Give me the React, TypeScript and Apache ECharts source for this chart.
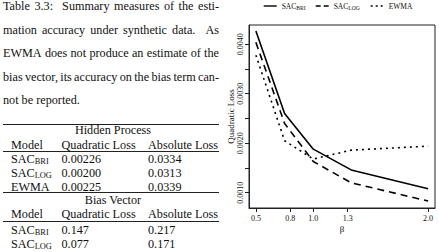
import React, { useEffect, useRef } from 'react';
import * as echarts from 'echarts';

// ---------- chart data ----------
const betaValues = [0.5, 0.75, 1.0, 1.33, 2.0];
const sacBriLoss = [0.00427, 0.0026, 0.00188, 0.00146, 0.00108];
const sacLogLoss = [0.00404, 0.0024, 0.00163, 0.0012, 0.00083];
const ewmaLoss = [0.00378, 0.00205, 0.00168, 0.00186, 0.00194];
const xTickValues = [0.5, 0.8, 1.0, 1.3, 2.0];
const yTickValues = [0.001, 0.0015, 0.002, 0.0025, 0.003, 0.0035, 0.004];
const yLabelValues = [0.001, 0.002, 0.003, 0.004];
const seriesNames = ['SAC_BRI', 'SAC_LOG', 'EWMA'];

// ---------- caption & table text ----------
const captionLines = [
  'Table 3.3:  Summary measures of the esti-',
  'mation accuracy under synthetic data.  As',
  'EWMA does not produce an estimate of the',
  'bias vector, its accuracy on the bias term can-',
  'not be reported.',
];
const captionJustified = [true, true, true, true, false];
const tableHeader = ['Model', 'Quadratic Loss', 'Absolute Loss'];
const hiddenTitle = 'Hidden Process';
const hiddenModels = ['SAC_BRI', 'SAC_LOG', 'EWMA'];
const hiddenQuadratic = ['0.00226', '0.00200', '0.00225'];
const hiddenAbsolute = ['0.0334', '0.0313', '0.0339'];
const biasTitle = 'Bias Vector';
const biasModels = ['SAC_BRI', 'SAC_LOG'];
const biasQuadratic = ['0.147', '0.077'];
const biasAbsolute = ['0.217', '0.171'];

const FONT = 'Liberation Serif, Times New Roman, serif';
const INK = '#111';

function toRich(name: string) {
  const i = name.indexOf('_');
  if (i < 0) return `{m|${name}}`;
  return `{m|${name.slice(0, i)}}{s|${name.slice(i + 1)}}`;
}

function buildGraphic() {
  const els: any[] = [];
  const CAP_SIZE = 12.2;
  const CAP_LEFT = 3;
  const CAP_RIGHT = 219;
  const CAP_TOP = 6;
  const CAP_LEAD = 23.5;
  const ctx = document.createElement('canvas').getContext('2d')!;
  ctx.font = `${CAP_SIZE}px "Liberation Serif"`;
  const txt = (text: string, x: number, y: number, size: number, align = 'left', rich?: any) => ({
    type: 'text',
    x,
    y,
    silent: true,
    style: {
      text,
      fontSize: size,
      fontFamily: FONT,
      fill: INK,
      align,
      textAlign: align,
      verticalAlign: 'middle',
      textVerticalAlign: 'middle',
      rich,
    },
  });
  captionLines.forEach((line, i) => {
    const y = CAP_TOP + i * CAP_LEAD;
    if (!captionJustified[i]) {
      els.push(txt(line, CAP_LEFT, y, CAP_SIZE));
      return;
    }
    const words = line.split(' ');
    const widths = words.map((w) => ctx.measureText(w).width);
    const total = widths.reduce((a, b) => a + b, 0);
    const gap = (CAP_RIGHT - CAP_LEFT - total) / (words.length - 1);
    let x = CAP_LEFT;
    words.forEach((w, j) => {
      if (w) els.push(txt(w, x, y, CAP_SIZE));
      x += widths[j] + gap;
    });
  });

  // table
  const T = 12.2;
  const richModel = {
    m: { fontSize: T, fontFamily: FONT, fill: INK, lineHeight: 14 },
    s: { fontSize: 8.4, fontFamily: FONT, fill: INK, lineHeight: 8, verticalAlign: 'bottom' },
  };
  const cols = [11, 61.5, 148];
  const CENTER = 113;
  const rule = (y: number) => ({
    type: 'line',
    silent: true,
    shape: { x1: 3, y1: y, x2: 219, y2: y },
    style: { stroke: '#222', lineWidth: 1 },
  });
  els.push(rule(124.5));
  els.push(txt(hiddenTitle, CENTER, 129.5, T, 'center'));
  tableHeader.forEach((h, c) => els.push(txt(h, cols[c], 144.5, T)));
  els.push(rule(151.5));
  const hiddenY = [158.5, 172.5, 186.5];
  hiddenModels.forEach((m, r) => {
    els.push(txt(toRich(m), cols[0], hiddenY[r], T, 'left', richModel));
    els.push(txt(hiddenQuadratic[r], cols[1], hiddenY[r], T));
    els.push(txt(hiddenAbsolute[r], cols[2], hiddenY[r], T));
  });
  els.push(rule(192.5));
  els.push(txt(biasTitle, CENTER, 200, T, 'center'));
  tableHeader.forEach((h, c) => els.push(txt(h, cols[c], 214, T)));
  els.push(rule(221.5));
  const biasY = [229.5, 243.5];
  biasModels.forEach((m, r) => {
    els.push(txt(toRich(m), cols[0], biasY[r], T, 'left', richModel));
    els.push(txt(biasQuadratic[r], cols[1], biasY[r], T));
    els.push(txt(biasAbsolute[r], cols[2], biasY[r], T));
  });
  return els;
}

function buildOption(): any {
  const lineTypes: any[] = ['solid', [7, 5], [2, 4]];
  const legendDash: any[] = ['solid', [5, 3], [2, 3]];
  const seriesData = [sacBriLoss, sacLogLoss, ewmaLoss];
  const legendLefts = [263, 315, 370];
  const legendText = {
    fontFamily: FONT,
    fontSize: 7.5,
    color: INK,
    rich: {
      m: { fontFamily: FONT, fontSize: 7.5, color: INK, lineHeight: 10 },
      s: { fontFamily: FONT, fontSize: 5.6, color: INK, lineHeight: 6, verticalAlign: 'bottom' },
    },
  };
  return {
    animation: false,
    backgroundColor: '#fff',
    textStyle: { fontFamily: FONT },
    graphic: { elements: buildGraphic() },
    legend: seriesNames.map((n, i) => ({
      data: [
        {
          name: n,
          lineStyle: { type: legendDash[i], width: 1.4, color: '#000' },
          itemStyle: { opacity: 0, color: 'transparent', borderWidth: 0 },
        },
      ],
      left: legendLefts[i],
      top: 2,
      padding: 0,
      itemWidth: 13,
      itemHeight: 9,
      itemStyle: { opacity: 0, color: 'transparent', borderWidth: 0 },
      formatter: (name: string) => toRich(name),
      textStyle: legendText,
      selectedMode: false,
    })),
    grid: {
      left: 249,
      top: 25,
      width: 186,
      height: 183,
      show: true,
      borderColor: '#222',
      borderWidth: 1,
      backgroundColor: 'transparent',
      containLabel: false,
    },
    xAxis: {
      type: 'value',
      min: 0.44,
      max: 2.06,
      name: 'β',
      nameLocation: 'middle',
      nameGap: 16,
      nameMoveOverlap: false,
      nameTextStyle: { fontFamily: FONT, fontSize: 9, color: INK, lineHeight: 9 },
      axisLine: { show: true, onZero: false, lineStyle: { color: '#222', width: 1 } },
      axisTick: { show: true, length: 4, customValues: xTickValues, lineStyle: { color: '#222' } },
      axisLabel: {
        customValues: xTickValues,
        formatter: (v: number) => v.toFixed(1),
        fontFamily: FONT,
        fontSize: 8,
        color: INK,
        margin: 6,
      },
      splitLine: { show: false },
    },
    yAxis: {
      type: 'value',
      min: 0.00069,
      max: 0.00439,
      name: 'Quadratic Loss',
      nameLocation: 'middle',
      nameRotate: 90,
      nameGap: 14,
      nameMoveOverlap: false,
      nameTextStyle: { fontFamily: FONT, fontSize: 9, color: INK },
      axisLine: { show: true, onZero: false, lineStyle: { color: '#222', width: 1 } },
      axisTick: { show: true, length: 4, customValues: yTickValues, lineStyle: { color: '#222' } },
      axisLabel: {
        customValues: yLabelValues,
        rotate: 90,
        formatter: (v: number) => v.toFixed(4),
        fontFamily: FONT,
        fontSize: 8,
        color: INK,
        margin: 5,
      },
      splitLine: { show: false },
    },
    series: seriesNames.map((n, i) => ({
      name: n,
      type: 'line',
      symbol: 'none',
      data: betaValues.map((b, j) => [b, seriesData[i][j]]),
      lineStyle: { color: '#000', width: 1.6, type: lineTypes[i] },
      itemStyle: { color: '#000' },
    })),
  };
}

export default function App() {
  const ref = useRef<HTMLDivElement>(null);
  useEffect(() => {
    document.body.style.margin = '0';
    const chart = echarts.init(ref.current!, null, { renderer: 'svg' });
    chart.setOption(buildOption());
    return () => chart.dispose();
  }, []);
  return (
    <div
      ref={ref}
      style={{ position: 'absolute', left: 0, top: 0, width: 439, height: 252, background: '#fff' }}
    />
  );
}
